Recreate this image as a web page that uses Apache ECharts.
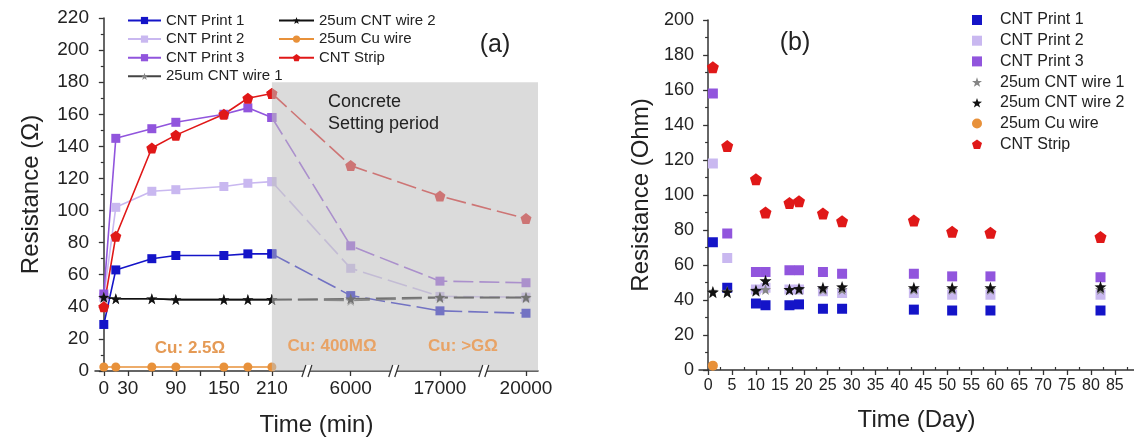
<!DOCTYPE html>
<html>
<head>
<meta charset="utf-8">
<script src="https://cdn.jsdelivr.net/npm/echarts@6/dist/echarts.min.js"></script>
<style>
  html, body { margin: 0; padding: 0; background: #fff; }
  #chart { width: 1134px; height: 442px; }
</style>
</head>
<body>
<div id="chart"></div>
<script>
// ---- panel (a): resistance vs time (min) ----
var minutes = [0, 15, 60, 90, 150, 180, 210, 6000, 17000, 20000];
var print1Min = [29, 63, 70, 72, 72, 73, 73, 47, 37.5, 36];
var print2Min = [46, 102, 112, 113, 115, 117, 118, 64, 46.5, 46];
var print3Min = [48, 145, 151, 155, 160, 164, 158, 78, 56, 55];
var wire1Min = [46, 45, 45, 44.5, 44.5, 44.5, 44.5, 44, 45.5, 45.5];
var wire2Min = [46, 45, 45, 44.5, 44.5, 44.5, 44.5, 45, 46, 46];
var cuMin = [2.5, 2.5, 2.5, 2.5, 2.5, 2.5, 2.5, null, null, null];
var stripMin = [40, 84, 139, 147, 160, 170, 173, 128, 109, 95];
var minuteLabels = [0, 30, 90, 150, 210, 6000, 17000, 20000];
var minuteTicks = [0, 30, 60, 90, 120, 150, 180, 210, 6000, 17000, 20000];

// ---- panel (b): resistance vs time (day) ----
var days = [1, 4, 10, 12, 17, 19, 24, 28, 43, 51, 59, 82];
var print1Day = [73, 47, 38, 37, 37, 37.5, 35, 35, 34.5, 34, 34, 34];
var print2Day = [118, 64, 46, 47, 46, 46, 45, 44, 44, 43, 43, 43];
var print3Day = [158, 78, 56, 56, 57, 57, 56, 55, 55, 53.5, 53.5, 53];
var wire1Day = [45, 45, 45, 46, 46, 46, 46, 46, 46, 46, 46, 46];
var wire2Day = [44.5, 44.5, 45.5, 51, 46, 46.5, 47, 47.5, 47, 47, 47, 47.5];
var cuDay = [2.5, null, null, null, null, null, null, null, null, null, null, null];
var stripDay = [173, 128, 109, 90, 95.5, 96.5, 89.5, 85, 85.5, 79, 78.5, 76];
var dayTicks = [0, 5, 10, 15, 20, 25, 30, 35, 40, 45, 50, 55, 60, 65, 70, 75, 80, 85];
var dayMinorTicks = [2.5, 7.5, 12.5, 17.5, 22.5, 27.5, 32.5, 37.5, 42.5, 47.5, 52.5, 57.5, 62.5, 67.5, 72.5, 77.5, 82.5, 87.5];

var FONT = 'Liberation Sans';
var AXIS = '#333';

var starPath = 'path://M0,-1 L0.235,-0.324 L0.951,-0.309 L0.38,0.124 L0.588,0.809 L0,0.4 L-0.588,0.809 L-0.38,0.124 L-0.951,-0.309 L-0.235,-0.324 Z';
var pentaPath = 'path://M0,-1 L0.951,-0.309 L0.588,0.809 L-0.588,0.809 L-0.951,-0.309 Z';

// x-axis breaks of panel (a)
var breaksA = [
    { start: 250, end: 5949, gap: 7.5 },
    { start: 6050, end: 16946, gap: 7.5 },
    { start: 17051, end: 19951, gap: 7.5 }
];
var minA = -11, maxA = 20015;

function pairs(xs, ys, from, to) {
    var out = [];
    for (var i = from; i <= to; i++) {
        if (ys[i] != null) out.push([xs[i], ys[i]]);
    }
    return out;
}

var styles = {
    'CNT Print 1': { color: '#1414c8', line: '#1414c8', symbol: 'rect', size: 9, sizeB: 10 },
    'CNT Print 2': { color: '#c9b8f0', line: '#c9b8f0', symbol: 'rect', size: 9, sizeB: 10 },
    'CNT Print 3': { color: '#9155dd', line: '#9155dd', symbol: 'rect', size: 9, sizeB: 10 },
    '25um CNT wire 1': { color: '#858585', line: '#444', symbol: starPath, size: 11, sizeB: 11 },
    '25um CNT wire 2': { color: '#111', line: '#111', symbol: starPath, size: 11, sizeB: 12 },
    '25um Cu wire': { color: '#e8913a', line: '#e8913a', symbol: 'circle', size: 9, sizeB: 10 },
    'CNT Strip': { color: '#e01818', line: '#e01818', symbol: pentaPath, size: 11, sizeB: 12 }
};

var seriesA = [
    ['CNT Print 1', print1Min], ['CNT Print 2', print2Min], ['CNT Print 3', print3Min],
    ['25um CNT wire 1', wire1Min], ['25um CNT wire 2', wire2Min],
    ['25um Cu wire', cuMin], ['CNT Strip', stripMin]
];
var seriesB = [
    ['CNT Print 1', print1Day], ['CNT Print 2', print2Day], ['CNT Print 3', print3Day],
    ['25um CNT wire 1', wire1Day], ['25um CNT wire 2', wire2Day],
    ['25um Cu wire', cuDay], ['CNT Strip', stripDay]
];

var series = [];
seriesA.forEach(function (s) {
    var st = styles[s[0]];
    var base = {
        type: 'line', name: s[0], xAxisIndex: 0, yAxisIndex: 0,
        symbol: st.symbol, symbolSize: st.size, showSymbol: true,
        itemStyle: { color: st.color }, z: 3
    };
    // solid part before the concrete setting
    series.push(Object.assign({}, base, {
        data: pairs(minutes, s[1], 0, 6),
        lineStyle: { color: st.line, width: 1.6 }
    }));
    // dashed part after 210 min
    var rest = pairs(minutes, s[1], 6, 9);
    if (rest.length > 1) {
        series.push(Object.assign({}, base, {
            data: rest,
            lineStyle: { color: st.line, width: 1.6, type: [20, 6] }
        }));
    }
});
// gray overlay + axis break marks
var breakMarks = [];
breaksA.forEach(function (b) {
    var mid = (b.start + b.end) / 2;
    breakMarks.push({ coord: [mid, 0], symbol: 'path://M0,12 L4,0 L10,0 L6,12 Z', symbolSize: [10, 12], itemStyle: { color: '#fff', borderWidth: 0 } });
    breakMarks.push({ coord: [mid, 0], symbol: 'path://M0,12 L4,0 M6,12 L10,0', symbolSize: [10, 12], itemStyle: { color: 'none', borderColor: AXIS, borderWidth: 1.4 } });
});
series.push({
    type: 'line', name: 'shade', xAxisIndex: 0, yAxisIndex: 0, data: [], z: 6, silent: true,
    markArea: {
        silent: true, z: 10,
        itemStyle: { color: 'rgba(190,190,190,0.56)' },
        data: [[{ coord: [210, 0] }, { coord: [maxA, 180] }]]
    },
    markPoint: { silent: true, z: 11, label: { show: false }, data: breakMarks }
});
seriesB.forEach(function (s) {
    var st = styles[s[0]];
    series.push({
        type: 'scatter', name: 'b|' + s[0], xAxisIndex: 1, yAxisIndex: 1,
        symbol: st.symbol, symbolSize: st.sizeB,
        itemStyle: { color: st.color, opacity: 1 },
        data: pairs(days, s[1], 0, days.length - 1)
    });
});

var axisLabelStyle = { color: '#222', fontFamily: FONT };
var nameStyle = { color: '#222', fontFamily: FONT, fontSize: 24 };

var chart = echarts.init(document.getElementById('chart'), null, { renderer: 'canvas' });
chart.setOption({
    animation: false,
    backgroundColor: '#fff',
    grid: [
        { left: 95, top: 18, width: 443, height: 354 },
        { left: 699, top: 20, width: 435, height: 350 }
    ],
    xAxis: [
        {
            type: 'value', gridIndex: 0, min: minA, max: maxA,
            breaks: breaksA,
            breakArea: { show: false },
            name: 'Time (min)', nameLocation: 'middle', nameGap: 42, nameTextStyle: nameStyle,
            axisLine: { show: true, onZero: false, lineStyle: { color: AXIS, width: 1.5 } },
            axisTick: { show: true, length: 5, lineStyle: { color: AXIS, width: 1.3 }, customValues: minuteTicks },
            axisLabel: Object.assign({
                fontSize: 19, margin: 8, customValues: minuteLabels,
                formatter: function (v) { return String(v); }
            }, axisLabelStyle),
            splitLine: { show: false }
        },
        {
            type: 'value', gridIndex: 1, min: -1.9, max: 89,
            name: 'Time (Day)', nameLocation: 'middle', nameGap: 38, nameTextStyle: nameStyle,
            axisLine: { show: true, onZero: false, lineStyle: { color: AXIS, width: 1.5 } },
            axisTick: { show: true, length: 5, lineStyle: { color: AXIS, width: 1.3 }, customValues: dayTicks },
            axisLabel: Object.assign({ fontSize: 16, margin: 8, customValues: dayTicks }, axisLabelStyle),
            splitLine: { show: false }
        },
        {
            // minor ticks of the day axis
            type: 'value', gridIndex: 1, min: -1.9, max: 89,
            axisLine: { show: false },
            axisTick: { show: true, length: 3, lineStyle: { color: AXIS, width: 1.2 }, customValues: dayMinorTicks },
            axisLabel: { show: false },
            splitLine: { show: false }
        }
    ],
    yAxis: [
        {
            type: 'value', gridIndex: 0, min: 0, max: 220, interval: 20,
            name: 'Resistance (Ω)', nameLocation: 'middle', nameGap: 52, nameTextStyle: nameStyle,
            axisLine: { show: true, lineStyle: { color: AXIS, width: 1.5 } },
            axisTick: { show: true, length: 5, lineStyle: { color: AXIS, width: 1.3 } },
            minorTick: { show: true, splitNumber: 2, length: 3, lineStyle: { color: AXIS, width: 1.2 } },
            axisLabel: Object.assign({ fontSize: 19, margin: 6 }, axisLabelStyle),
            splitLine: { show: false }
        },
        {
            type: 'value', gridIndex: 1, min: 0, max: 200, interval: 20,
            name: 'Resistance (Ohm)', nameLocation: 'middle', nameGap: 46, nameTextStyle: nameStyle,
            axisLine: { show: true, lineStyle: { color: AXIS, width: 1.5 } },
            axisTick: { show: true, length: 5, lineStyle: { color: AXIS, width: 1.3 } },
            minorTick: { show: true, splitNumber: 2, length: 3, lineStyle: { color: AXIS, width: 1.2 } },
            axisLabel: Object.assign({ fontSize: 18, margin: 5 }, axisLabelStyle),
            splitLine: { show: false }
        }
    ],
    legend: [
        {
            data: ['CNT Print 1', 'CNT Print 2', 'CNT Print 3', '25um CNT wire 1'],
            orient: 'vertical', left: 122, top: 8, itemGap: 3.6,
            itemWidth: 33, itemHeight: 9, selectedMode: false,
            textStyle: { fontFamily: FONT, fontSize: 15, color: '#222', lineHeight: 15 }
        },
        {
            data: ['25um CNT wire 2', '25um Cu wire', 'CNT Strip'],
            orient: 'vertical', left: 273, top: 8, itemGap: 3.6,
            itemWidth: 35, itemHeight: 9, selectedMode: false,
            textStyle: { fontFamily: FONT, fontSize: 15, color: '#222', lineHeight: 15 }
        },
        {
            data: seriesB.map(function (s) { return 'b|' + s[0]; }),
            formatter: function (name) { return name.slice(2); },
            orient: 'vertical', left: 967, top: 7, itemGap: 4.7,
            itemWidth: 10, itemHeight: 10, selectedMode: false,
            textStyle: { fontFamily: FONT, fontSize: 16, color: '#222', lineHeight: 16, padding: [0, 0, 0, 13] }
        }
    ],
    graphic: [
        { type: 'text', x: 495, y: 45, z: 100, style: { text: '(a)', font: '25px "Liberation Sans"', fill: '#222', textAlign: 'center', textVerticalAlign: 'middle' } },
        { type: 'text', x: 795, y: 43, z: 100, style: { text: '(b)', font: '25px "Liberation Sans"', fill: '#222', textAlign: 'center', textVerticalAlign: 'middle' } },
        { type: 'text', x: 328, y: 102, z: 100, style: { text: 'Concrete', font: '18px "Liberation Sans"', fill: '#222', textVerticalAlign: 'middle' } },
        { type: 'text', x: 328, y: 124, z: 100, style: { text: 'Setting period', font: '18px "Liberation Sans"', fill: '#222', textVerticalAlign: 'middle' } },
        { type: 'text', x: 190, y: 348, z: 100, style: { text: 'Cu: 2.5Ω', font: 'bold 17px "Liberation Sans"', fill: '#e59a55', textAlign: 'center', textVerticalAlign: 'middle' } },
        { type: 'text', x: 332, y: 346, z: 100, style: { text: 'Cu: 400MΩ', font: 'bold 17px "Liberation Sans"', fill: '#e8a366', textAlign: 'center', textVerticalAlign: 'middle' } },
        { type: 'text', x: 463, y: 346, z: 100, style: { text: 'Cu: >GΩ', font: 'bold 17px "Liberation Sans"', fill: '#e8a366', textAlign: 'center', textVerticalAlign: 'middle' } }
    ],
    series: series
});
</script>
</body>
</html>
